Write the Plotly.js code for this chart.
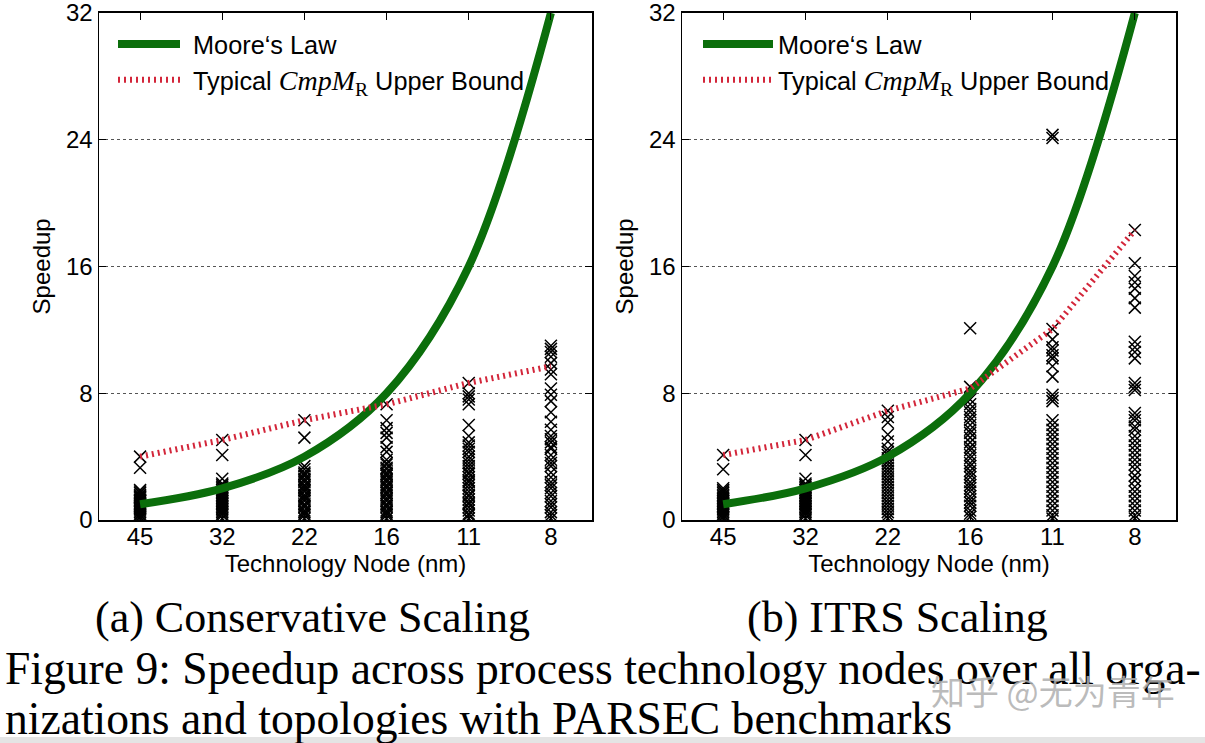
<!DOCTYPE html>
<html>
<head>
<meta charset="utf-8">
<script src="https://cdn.plot.ly/plotly-3.0.1.min.js"></script>
<style>html,body{margin:0;padding:0;background:#fff;} #chart{width:1205px;height:743px;}</style>
</head>
<body>
<div id="chart"></div>
<script>
// Technology nodes (category tick labels)
var nodes = ['45', '32', '22', '16', '11', '8'];

// Moore's Law reference speedup at each node
var moore = [1, 2, 4, 8, 16, 32];

// Typical CmpM_R upper bound
var boundConservative = [4.0, 5.05, 6.3, 7.3, 8.65, 9.7];
var boundITRS = [4.1, 5.05, 6.9, 8.3, 12.05, 18.3];

// (a) Conservative scaling: speedups of all organizations/topologies per node
var consN45 = [4.0, 3.3, 1.9, 1.8, 1.7, 1.6, 1.5, 1.45, 1.4, 1.3, 1.25, 1.2, 1.1, 1.0, 0.95, 0.9, 0.8, 0.75, 0.7, 0.6, 0.5, 0.4, 0.3, 0.2, 0.1];
var consN32 = [5.05, 4.1, 2.6, 2.3, 2.2, 2.1, 2.0, 1.9, 1.8, 1.7, 1.6, 1.5, 1.4, 1.3, 1.2, 1.1, 1.0, 0.9, 0.8, 0.7, 0.6, 0.5, 0.4, 0.3, 0.1];
var consN22 = [6.3, 5.2, 3.4, 3.2, 3.0, 2.9, 2.8, 2.6, 2.5, 2.4, 2.2, 2.1, 2.0, 1.9, 1.8, 1.6, 1.5, 1.4, 1.3, 1.2, 1.0, 0.9, 0.8, 0.6, 0.5, 0.4, 0.3, 0.1];
var consN16 = [7.3, 6.3, 5.8, 5.5, 5.2, 4.6, 4.3, 3.8, 3.6, 3.5, 3.3, 3.2, 3.0, 2.9, 2.8, 2.6, 2.5, 2.4, 2.2, 2.1, 2.0, 1.8, 1.7, 1.6, 1.4, 1.3, 1.2, 1.0, 0.9, 0.8, 0.6, 0.5, 0.4, 0.3, 0.1];
var consN11 = [8.65, 8.0, 7.8, 7.6, 7.3, 6.0, 5.3, 4.9, 4.7, 4.5, 4.3, 4.0, 3.8, 3.6, 3.4, 3.2, 3.0, 2.9, 2.7, 2.5, 2.4, 2.2, 2.0, 1.8, 1.6, 1.5, 1.3, 1.1, 1.0, 0.8, 0.6, 0.4, 0.3, 0.1];
var consN8 = [11.0, 10.8, 10.6, 10.3, 9.9, 9.5, 9.2, 8.3, 7.9, 7.5, 6.8, 6.2, 5.7, 5.3, 5.1, 4.9, 4.6, 4.5, 4.1, 3.8, 3.6, 3.4, 3.0, 2.7, 2.4, 2.2, 2.0, 1.7, 1.5, 1.2, 1.0, 0.8, 0.5, 0.3, 0.1];

// (b) ITRS scaling
var itrsN45 = [4.1, 3.2, 2.0, 1.9, 1.8, 1.7, 1.6, 1.5, 1.4, 1.3, 1.2, 1.1, 1.0, 0.9, 0.8, 0.7, 0.6, 0.5, 0.4, 0.3, 0.2, 0.1];
var itrsN32 = [5.05, 4.1, 2.6, 2.3, 2.2, 2.1, 2.0, 1.9, 1.8, 1.7, 1.6, 1.5, 1.4, 1.3, 1.2, 1.1, 1.0, 0.9, 0.8, 0.7, 0.6, 0.5, 0.4, 0.3, 0.1];
var itrsN22 = [6.9, 6.5, 6.15, 5.4, 4.95, 4.5, 4.3, 4.1, 3.9, 3.7, 3.5, 3.3, 3.1, 2.9, 2.7, 2.5, 2.3, 2.1, 1.9, 1.7, 1.5, 1.3, 1.1, 0.9, 0.7, 0.5, 0.3, 0.1];
var itrsN16 = [12.1, 8.4, 7.6, 7.3, 7.0, 6.8, 6.5, 6.3, 6.0, 5.7, 5.5, 5.2, 4.9, 4.6, 4.4, 4.1, 3.9, 3.6, 3.4, 3.1, 2.9, 2.7, 2.4, 2.2, 2.0, 1.8, 1.5, 1.3, 1.1, 0.9, 0.6, 0.4, 0.2];
var itrsN11 = [24.3, 24.1, 12.05, 11.4, 10.9, 10.7, 10.4, 10.2, 9.7, 9.05, 7.9, 7.7, 7.5, 6.3, 6.0, 5.7, 5.4, 5.1, 4.8, 4.5, 4.2, 3.9, 3.6, 3.3, 3.0, 2.7, 2.4, 2.1, 1.8, 1.5, 1.2, 0.9, 0.6, 0.3, 0.1];
var itrsN8 = [18.3, 16.2, 15.4, 15.0, 14.6, 14.0, 13.4, 11.25, 10.9, 10.6, 10.2, 8.65, 8.4, 8.2, 6.75, 6.5, 6.3, 5.9, 5.7, 5.3, 5.0, 4.7, 4.4, 4.1, 3.8, 3.5, 3.2, 2.8, 2.5, 2.1, 1.8, 1.5, 1.2, 0.9, 0.6, 0.3, 0.1];

var yTicks = [0, 8, 16, 24, 32];

var consGroups = [consN45, consN32, consN22, consN16, consN11, consN8];
var itrsGroups = [itrsN45, itrsN32, itrsN22, itrsN16, itrsN11, itrsN8];

var GREEN = '#0b6e0b';
var RED = '#d3263a';
var FONT = 'Liberation Sans, Arial, Helvetica, sans-serif';
var SERIF = 'Liberation Serif, Times New Roman, serif';

function flatten(groups) {
  var xs = [], ys = [];
  groups.forEach(function (g, i) {
    g.forEach(function (v) { xs.push(i); ys.push(v); });
  });
  return {x: xs, y: ys};
}
var idx = nodes.map(function (_, i) { return i; });

function panelTraces(groups, bound, xa, ya, leg) {
  var f = flatten(groups);
  return [
    {x: f.x, y: f.y, xaxis: xa, yaxis: ya, type: 'scatter', mode: 'markers', showlegend: false,
     marker: {symbol: 'x-thin-open', size: 12, color: '#000', line: {color: '#000', width: 1.5}}},
    {x: idx, y: moore, xaxis: xa, yaxis: ya, type: 'scatter', mode: 'lines', name: 'Moore\u2018s Law',
     legend: leg, line: {color: GREEN, width: 8, shape: 'spline', smoothing: 1}},
    {x: idx, y: bound, xaxis: xa, yaxis: ya, type: 'scatter', mode: 'lines', legend: leg,
     name: 'Typical <span style="font-family:Liberation Serif;font-size:28px"><i>CmpM</i><sub>R</sub></span> Upper Bound',
     line: {color: RED, width: 6, dash: '2px,4px'}}
  ];
}

var data = panelTraces(consGroups, boundConservative, 'x', 'y', 'legend')
  .concat(panelTraces(itrsGroups, boundITRS, 'x2', 'y2', 'legend2'));

function xAxis(domain, anchor) {
  return {
    domain: domain, anchor: anchor, range: [-0.5, 5.5],
    tickvals: idx, ticktext: nodes, ticks: 'inside', ticklen: 7, tickcolor: '#000', tickwidth: 1,
    showline: true, mirror: 'ticks', linecolor: '#000', linewidth: 1.5,
    showgrid: false, zeroline: false, ticklabelstandoff: -5,
    tickfont: {family: FONT, size: 24, color: '#000'},
    title: {text: 'Technology Node (nm)', font: {family: FONT, size: 24, color: '#000'}, standoff: 3}
  };
}
function yAxis(domain, anchor) {
  return {
    domain: domain, anchor: anchor, range: [0, 32.01],
    tickvals: yTicks, ticks: 'inside', ticklen: 7, tickcolor: '#000', tickwidth: 1,
    showline: true, mirror: 'ticks', linecolor: '#000', linewidth: 1.5,
    showgrid: true, gridcolor: '#555', griddash: 'dot', gridwidth: 1, zeroline: false,
    ticklabeloverflow: 'allow',
    tickfont: {family: FONT, size: 24, color: '#000'},
    title: {text: 'Speedup', font: {family: FONT, size: 24, color: '#000'}, standoff: 8}
  };
}

var yDom = [0.3001, 0.9829];
var legendBase = {
  bgcolor: 'rgba(0,0,0,0)', borderwidth: 0, yanchor: 'top', xanchor: 'left',
  font: {family: FONT, size: 25.3, color: '#000'}, itemwidth: 70, tracegroupgap: 0
};

var layout = {
  width: 1205, height: 743,
  margin: {l: 0, r: 0, t: 0, b: 0},
  paper_bgcolor: '#fff', plot_bgcolor: '#fff',
  showlegend: true,
  xaxis: xAxis([99 / 1205, 592 / 1205], 'y'),
  yaxis: yAxis(yDom, 'x'),
  xaxis2: xAxis([682 / 1205, 1176 / 1205], 'y2'),
  yaxis2: yAxis(yDom, 'x2'),
  legend: Object.assign({}, legendBase, {x: 113 / 1205, y: (743 - 21) / 743}),
  legend2: Object.assign({}, legendBase, {x: 698 / 1205, y: (743 - 21) / 743}),
  shapes: [
    {type: 'rect', xref: 'paper', yref: 'paper', x0: 0, x1: 1, y0: 0, y1: 6 / 743,
     fillcolor: '#e4e4e4', line: {width: 0}, layer: 'below'}
  ],
  annotations: [
    {text: '(a) Conservative Scaling', xref: 'paper', yref: 'paper', x: 312 / 1205, y: (743 - 617) / 743,
     xanchor: 'center', yanchor: 'middle', showarrow: false, font: {family: SERIF, size: 44, color: '#000'}},
    {text: '(b) ITRS Scaling', xref: 'paper', yref: 'paper', x: 897 / 1205, y: (743 - 617) / 743,
     xanchor: 'center', yanchor: 'middle', showarrow: false, font: {family: SERIF, size: 44, color: '#000'}},
    {text: 'Figure 9: Speedup across process technology nodes over all orga-', xref: 'paper', yref: 'paper',
     x: 3 / 1205, y: (743 - 668) / 743, xanchor: 'left', yanchor: 'middle', showarrow: false,
     font: {family: SERIF, size: 45.6, color: '#000'}},
    {text: 'nizations and topologies with PARSEC benchmarks', xref: 'paper', yref: 'paper',
     x: 3 / 1205, y: (743 - 718) / 743, xanchor: 'left', yanchor: 'middle', showarrow: false,
     font: {family: SERIF, size: 45.6, color: '#000'}},
    {text: '知乎 @无为青年', xref: 'paper', yref: 'paper', x: 1177 / 1205, y: (743 - 690) / 743,
     xanchor: 'right', yanchor: 'middle', showarrow: false,
     font: {family: 'Noto Sans CJK SC, sans-serif', size: 34, color: 'rgba(175,175,175,0.85)'}}
  ]
};

Plotly.newPlot('chart', data, layout, {staticPlot: true, displayModeBar: false}).then(function () {
  // lengthen the legend line samples to match the figure style
  document.querySelectorAll('.legend .legendlines path').forEach(function (p) {
    p.setAttribute('d', 'M5,0h62');
  });
});
</script>
</body>
</html>
